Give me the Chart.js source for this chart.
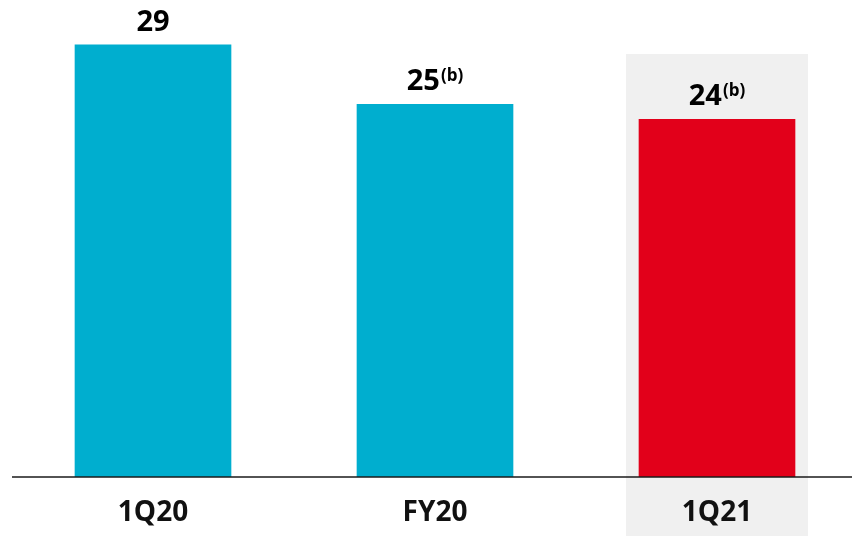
<!DOCTYPE html>
<html>
<head>
<meta charset="utf-8">
<script src="https://cdn.jsdelivr.net/npm/chart.js@4/dist/chart.umd.min.js"></script>
<style>
  html, body { margin: 0; padding: 0; background: #fff; overflow: hidden; }
  #wrap { position: relative; width: 860px; height: 536px; }
</style>
</head>
<body>
<div id="wrap"><canvas id="plot_canvas"></canvas></div>
<script>
// periods and their values
const periods = ['1Q20', 'FY20', '1Q21'];
const values = [29, 25, 24];
const notes = ['', '(b)', '(b)'];
const barColors = ['#00aecf', '#00aecf', '#e2001a'];
const highlightIndex = 2;

const FONT = '"Open Sans", "DejaVu Sans", sans-serif';

// grey panel behind the current period, under everything else
const highlightPanel = {
  id: 'highlightPanel',
  beforeDraw(chart) {
    const ctx = chart.ctx;
    const x = chart.scales.x;
    const cx = x.getPixelForValue(highlightIndex);
    ctx.save();
    ctx.fillStyle = '#f0f0f0';
    ctx.fillRect(cx - 91, chart.chartArea.top + 54, 182, chart.height);
    ctx.restore();
  }
};

// baseline across the full width, over the bar bottoms
const baseline = {
  id: 'baseline',
  afterDatasetsDraw(chart) {
    const ctx = chart.ctx;
    const y = chart.scales.y.getPixelForValue(0);
    ctx.save();
    ctx.strokeStyle = '#1a1a1a';
    ctx.lineWidth = 1.5;
    ctx.beginPath();
    ctx.moveTo(chart.chartArea.left, y);
    ctx.lineTo(chart.width, y);
    ctx.stroke();
    ctx.restore();
  }
};

// value labels with optional superscript note
const valueLabels = {
  id: 'valueLabels',
  afterDatasetsDraw(chart) {
    const ctx = chart.ctx;
    const meta = chart.getDatasetMeta(0);
    ctx.save();
    ctx.fillStyle = '#000';
    ctx.textBaseline = 'alphabetic';
    meta.data.forEach(function (bar, i) {
      const main = String(values[i]);
      const sup = notes[i];
      ctx.font = 'bold 29px ' + FONT;
      const w1 = ctx.measureText(main).width;
      ctx.font = 'bold 17px ' + FONT;
      const w2 = sup ? ctx.measureText(sup).width + 1 : 0;
      const left = bar.x - (w1 + w2) / 2;
      const base = bar.y - 14;
      ctx.textAlign = 'left';
      ctx.font = 'bold 29px ' + FONT;
      ctx.fillText(main, left, base);
      if (sup) {
        ctx.font = 'bold 17px ' + FONT;
        ctx.fillText(sup, left + w1 + 1, base - 9);
      }
    });
    ctx.restore();
  }
};

const canvas = document.getElementById('plot_canvas');
new Chart(canvas, {
  type: 'bar',
  data: {
    labels: periods,
    datasets: [{
      data: values,
      backgroundColor: barColors,
      borderWidth: 0,
      barThickness: 156
    }]
  },
  options: {
    responsive: true,
    maintainAspectRatio: false,
    animation: false,
    layout: { padding: { left: 12, right: 2, top: 0, bottom: 0 } },
    plugins: {
      legend: { display: false },
      tooltip: { enabled: false }
    },
    scales: {
      x: {
        grid: { display: false, drawTicks: false },
        border: { display: false },
        ticks: {
          color: '#111',
          padding: 19,
          font: { family: FONT, size: 28, weight: 'bold', lineHeight: 1.2 }
        },
        afterFit(scale) { scale.height = 59; }
      },
      y: {
        display: false,
        min: 0,
        max: 32
      }
    }
  },
  plugins: [highlightPanel, baseline, valueLabels]
});
</script>
</body>
</html>
